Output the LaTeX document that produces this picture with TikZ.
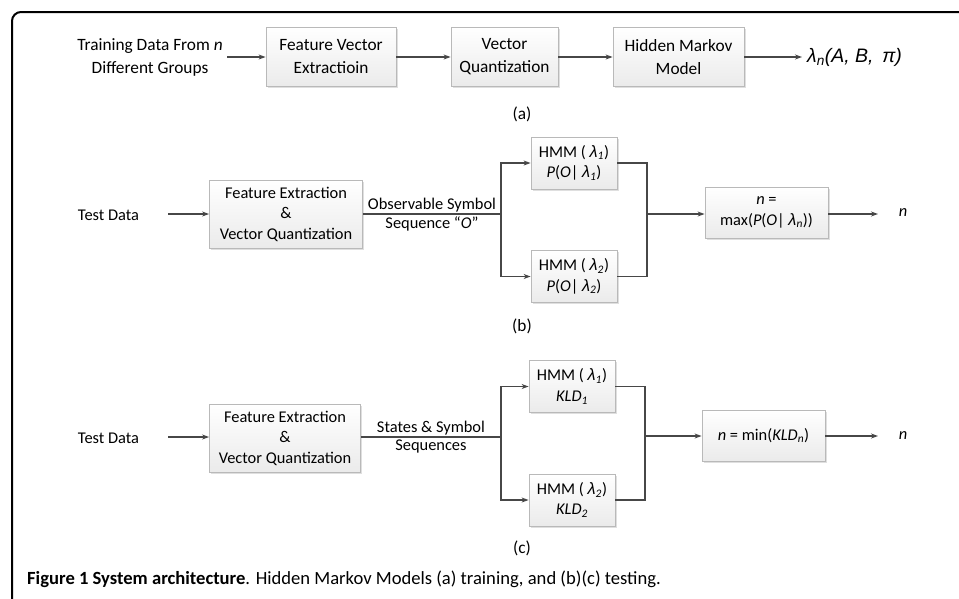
\documentclass[tikz,border=0pt]{standalone}
\usepackage{fontspec}
\setmainfont{Carlito}
\newfontfamily\symf{Liberation Sans}
\usetikzlibrary{arrows.meta,shadows,calc}
\newcommand{\lam}[1]{{\symf\itshape λ\textsubscript{\normalfont\itshape #1}}}
\begin{document}
\begin{tikzpicture}[x=1pt,y=-1pt,
  every node/.style={font=\fontsize{16.4}{20.5}\selectfont, inner sep=0pt, align=center},
  big/.style={font=\fontsize{17.3}{23}\selectfont},
  box/.style={draw=gray!55, line width=0.8pt, top color=white, bottom color=gray!16,
    drop shadow={opacity=0.25, shadow xshift=1.5pt, shadow yshift=-1.5pt}},
  arr/.style={-{Stealth[length=7pt,width=5pt]}, draw=black!72, line width=1.2pt},
  ln/.style={draw=black!72, line width=1.2pt},
  frame/.style={line width=2pt, rounded corners=9pt}]
\useasboundingbox (0,0) rectangle (959,598);
\draw[frame] (12,605) -- (12,12) -- (965,12);

% ---------- (a) ----------
\node[big] (tr) at (150,57) {Training Data From \textit{n}\\Different Groups};
\coordinate (tro) at (227,57);
\node[box, big, minimum width=130pt, minimum height=59pt] (a1) at (331,57) {Feature Vector\\Extractioin};
\node[box, big, minimum width=107pt, minimum height=59pt] (a2) at (504.5,57) {Vector\\Quantization};
\node[box, big, minimum width=131pt, minimum height=59pt] (a3) at (678.5,57) {Hidden Markov\\Model};
\coordinate (ao) at (802,57);
\node[anchor=west, font=\symf\itshape\fontsize{19.5}{24}\selectfont] (lab) at (807,57) {λ\textsubscript{n}(A, B, \,π)};
\draw[arr] (tro) -- (a1);
\draw[arr] (a1) -- (a2);
\draw[arr] (a2) -- (a3);
\draw[arr] (a3) -- (ao);
\node[big] (pa) at (522,114) {(a)};

% ---------- (b) ----------
\node (btd) at (108.5,215) {Test Data};
\coordinate (btdo) at (168,214);
\node[box, minimum width=153pt, minimum height=68pt] (b1) at (286,214) {Feature Extraction\\\&\\Vector Quantization};
\coordinate (bs) at (501,214);
\node[box, minimum width=86pt, minimum height=52pt] (b2) at (574,163) {HMM ( \lam{1})\\\textit{P}(\textit{O}| \lam{1})};
\node[box, minimum width=86pt, minimum height=52pt] (b3) at (574,276.5) {HMM ( \lam{2})\\\textit{P}(\textit{O}| \lam{2})};
\coordinate (bj) at (647,214);
\node[box, minimum width=123pt, minimum height=51pt] (b4) at (766.5,212.5) {\textit{n} =\\max(\textit{P}(\textit{O}| \lam{n}))};
\coordinate (bo) at (878,214);
\node (bn) at (903,213) {\textit{n}};
\draw[arr] (btdo) -- (btdo-|b1.west);
\draw[ln] (b1.east|-bs) -- node[above=1pt]{Observable Symbol} node[below=2pt]{Sequence “\textit{O}”} (bs);
\draw[arr] (bs) |- (b2.west);
\draw[arr] (bs) |- (b3.west);
\draw[ln] (b2.east) -| (bj);
\draw[ln] (b3.east) -| (bj);
\draw[arr] (bj) -- (bj-|b4.west);
\draw[arr] (b4.east|-bo) -- (bo);
\node[big] (pb) at (522,326) {(b)};

% ---------- (c) ----------
\node (ctd) at (108.5,438) {Test Data};
\coordinate (ctdo) at (168,437);
\node[box, minimum width=151pt, minimum height=68pt] (c1) at (285,438) {Feature Extraction\\\&\\Vector Quantization};
\coordinate (cs) at (501,437);
\node[box, minimum width=86pt, minimum height=52pt] (c2) at (572,386.5) {HMM ( \lam{1})\\\textit{KLD}\textsubscript{\textit{1}}};
\node[box, minimum width=86pt, minimum height=52pt] (c3) at (572,500) {HMM ( \lam{2})\\\textit{KLD}\textsubscript{\textit{2}}};
\coordinate (cj) at (645,436);
\node[box, minimum width=123pt, minimum height=51pt] (c4) at (763.5,435.5) {\textit{n} = min(\textit{KLD}\textsubscript{\textit{n}})};
\coordinate (co) at (878,436);
\node (cn) at (903,436) {\textit{n}};
\draw[arr] (ctdo) -- (ctdo-|c1.west);
\draw[ln] (c1.east|-cs) -- node[above=1pt]{States \& Symbol} node[below=2pt]{Sequences} (cs);
\draw[arr] (cs) |- (c2.west);
\draw[arr] (cs) |- (c3.west);
\draw[ln] (c2.east) -| (cj);
\draw[ln] (c3.east) -| (cj);
\draw[arr] (cj) -- (cj-|c4.west);
\draw[arr] (c4.east|-co) -- (co);
\node[big] (pc) at (522,548) {(c)};

% ---------- caption ----------
\node[anchor=west, font=\fontsize{18.6}{23}\selectfont] (cap) at (27,579) {\textbf{Figure 1 System architecture}. Hidden Markov Models (a) training, and (b)(c) testing.};
\end{tikzpicture}
\end{document}
